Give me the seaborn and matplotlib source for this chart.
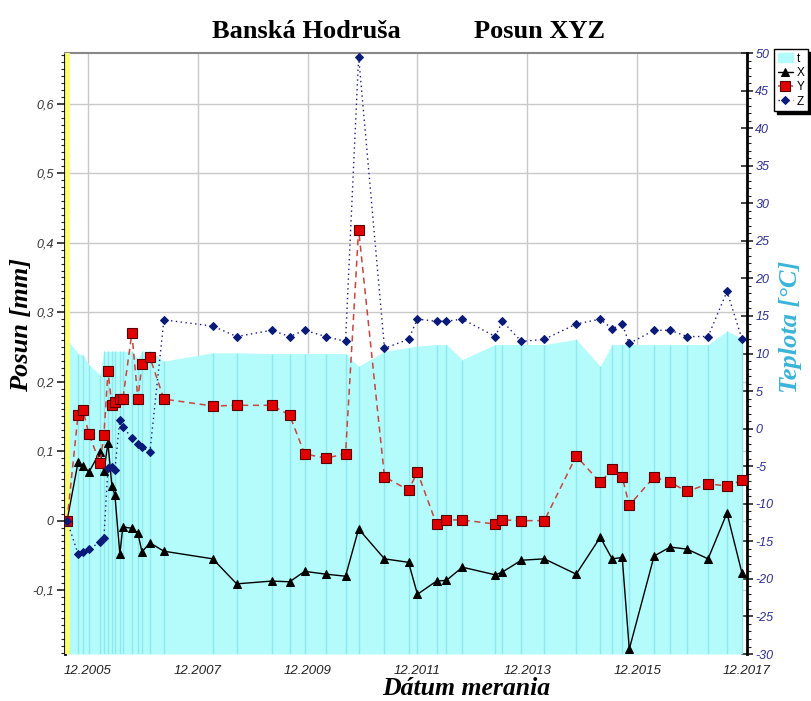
import matplotlib
matplotlib.use("Agg")
import numpy as np
import pandas as pd
import matplotlib.pyplot as plt
from matplotlib.ticker import MultipleLocator, AutoMinorLocator, FuncFormatter, FixedLocator, FixedFormatter
from matplotlib.patches import Patch
import seaborn as sns

# Measurement dates
dates = [
    "2005-07-15", "2005-09-26", "2005-10-29", "2005-12-08", "2006-02-19", "2006-03-17",
    "2006-04-13", "2006-05-09", "2006-05-29", "2006-07-01", "2006-07-21", "2006-09-19",
    "2006-10-29", "2006-11-25", "2007-01-17", "2007-04-20", "2008-03-10", "2008-08-16",
    "2009-04-06", "2009-08-03", "2009-11-11", "2010-03-31", "2010-08-10", "2010-11-05",
    "2011-04-26", "2011-10-03", "2011-12-01", "2012-04-06", "2012-06-11", "2012-09-25",
    "2013-05-02", "2013-06-18", "2013-10-22", "2014-03-24", "2014-10-22", "2015-03-31",
    "2015-06-18", "2015-08-24", "2015-10-10", "2016-03-23", "2016-07-08", "2016-10-29",
    "2017-03-17", "2017-07-21", "2017-10-29",
]

# Displacement components [mm]
posun_x = [
    0.000, 0.084, 0.078, 0.070, 0.099, 0.071, 0.112, 0.050, 0.037, -0.048, -0.009, -0.011,
    -0.018, -0.045, -0.032, -0.044, -0.055, -0.091, -0.087, -0.088, -0.073, -0.077, -0.080,
    -0.012, -0.055, -0.060, -0.106, -0.087, -0.086, -0.067, -0.078, -0.074, -0.057, -0.055,
    -0.077, -0.024, -0.055, -0.053, -0.185, -0.051, -0.038, -0.041, -0.055, 0.011, -0.076,
]
posun_y = [
    0.000, 0.152, 0.159, 0.124, 0.083, 0.123, 0.215, 0.166, 0.171, 0.175, 0.175, 0.270,
    0.175, 0.225, 0.235, 0.175, 0.165, 0.166, 0.166, 0.152, 0.096, 0.090, 0.096,
    0.419, 0.063, 0.044, 0.070, -0.005, 0.001, 0.001, -0.005, 0.001, 0.000, 0.000,
    0.093, 0.055, 0.074, 0.063, 0.022, 0.063, 0.055, 0.042, 0.053, 0.050, 0.058,
]
posun_z = [
    0.000, -0.048, -0.045, -0.041, -0.031, -0.025, 0.076, 0.077, 0.073, 0.145, 0.135, 0.119,
    0.110, 0.106, 0.099, 0.289, 0.280, 0.265, 0.274, 0.265, 0.274, 0.265, 0.258,
    0.668, 0.248, 0.261, 0.290, 0.287, 0.287, 0.290, 0.265, 0.287, 0.258, 0.261,
    0.283, 0.290, 0.276, 0.283, 0.255, 0.274, 0.274, 0.265, 0.265, 0.330, 0.261,
]

# Temperature at each measurement [°C]
teplota = [
    11.9, 10.0, 9.8, 8.5, 7.2, 10.3, 10.3, 10.3, 10.3, 10.3, 10.3, 10.3,
    9.3, 10.3, 10.3, 9.0, 10.1, 10.1, 10.0, 10.0, 10.0, 10.0, 10.0,
    8.3, 10.3, 10.8, 11.0, 11.2, 11.2, 9.2, 11.2, 11.2, 11.2, 11.2,
    11.9, 8.3, 11.2, 11.2, 11.2, 11.2, 11.2, 11.2, 11.2, 13.0, 12.0,
]

x_tick_labels = ["12.2005", "12.2007", "12.2009", "12.2011", "12.2013", "12.2015", "12.2017"]

df = pd.DataFrame({
    "datum": pd.to_datetime(dates),
    "X": posun_x,
    "Y": posun_y,
    "Z": posun_z,
    "t": teplota,
})
tick_dates = pd.to_datetime(x_tick_labels, format="%m.%Y")

sns.set_style("white")
plt.rcParams["font.family"] = ["Liberation Sans", "DejaVu Sans"]
plt.rcParams["font.style"] = "italic"
plt.rcParams["text.color"] = "black"
plt.rcParams["axes.labelcolor"] = "black"

fig = plt.figure(figsize=(8.11, 7.01), dpi=100)
rect = [0.0801, 0.0670, 0.8410, 0.8573]

# Base layer: displacement scale with grid
ax = fig.add_axes(rect)
ax.set_facecolor("white")
ax.set_xlim(pd.Timestamp("2005-07-01"), pd.Timestamp("2017-12-01"))
ax.set_ylim(-0.192, 0.673)
ax.yaxis.set_major_locator(MultipleLocator(0.1))
ax.yaxis.set_minor_locator(AutoMinorLocator(10))
ax.yaxis.set_major_formatter(FuncFormatter(
    lambda v, p: "0" if abs(v) < 1e-9 else f"{v:.1f}".replace(".", ",")))
ax.xaxis.set_major_locator(FixedLocator(matplotlib.dates.date2num(tick_dates)))
ax.xaxis.set_major_formatter(FixedFormatter(x_tick_labels))
ax.xaxis.set_minor_locator(AutoMinorLocator(10))
ax.grid(True, which="major", color="#c9c9c9", lw=1)
ax.tick_params(axis="y", which="major", direction="out", length=6, width=1.2,
               color="#222222", labelsize=9, labelcolor="#333333", pad=2)
ax.tick_params(axis="y", which="minor", direction="out", length=3, width=0.8, color="#222222")
ax.tick_params(axis="x", which="major", direction="out", length=5, width=1.0,
               color="#333333", labelsize=9.5, labelcolor="#222222", pad=3)
ax.tick_params(axis="x", which="minor", direction="out", length=3, width=0.8, color="#333333")
ax.spines["left"].set_color("black")
ax.spines["left"].set_linewidth(2)
ax.spines["top"].set_color("#888888")
ax.spines["top"].set_linewidth(1.5)
ax.spines["bottom"].set_visible(False)
ax.spines["right"].set_visible(False)

# Middle layer: temperature area on the right scale
ax_t = ax.twinx()
ax_t.set_ylim(-30, 50)
ax_t.fill_between(df["datum"], df["t"], -30, color="#b4fcfc", lw=0, zorder=1)
ax_t.vlines(df["datum"], -30, df["t"], color="#8fe8ee", lw=1, zorder=2)
ax_t.axvline(df["datum"].iloc[0], color="#ffff70", lw=3.5, zorder=3)
ax_t.yaxis.set_major_locator(MultipleLocator(5))
ax_t.yaxis.set_minor_locator(AutoMinorLocator(5))
ax_t.yaxis.set_major_formatter(FuncFormatter(lambda v, p: f"{v:.0f}"))
ax_t.tick_params(axis="y", which="major", direction="inout", length=8, width=1.2,
                 color="#222222", labelsize=9, labelcolor="#2e2e8f", pad=2)
ax_t.tick_params(axis="y", which="minor", direction="out", length=3, width=0.8, color="#222222")
for s in ("left", "top", "bottom"):
    ax_t.spines[s].set_visible(False)
ax_t.spines["right"].set_color("black")
ax_t.spines["right"].set_linewidth(2)

# Top layer: displacement series
ax_l = ax.twinx()
ax_l.set_ylim(ax.get_ylim())
sns.lineplot(data=df, x="datum", y="X", ax=ax_l, color="black", lw=1,
             marker="^", markersize=6, markerfacecolor="black", markeredgecolor="black",
             label="X", legend=False)
sns.lineplot(data=df, x="datum", y="Y", ax=ax_l, color="#c8443c", lw=1.1, linestyle=(0, (4, 3)),
             marker="s", markersize=6.5, markerfacecolor="#e00000", markeredgecolor="#5a0000",
             markeredgewidth=0.8, label="Y", legend=False)
sns.lineplot(data=df, x="datum", y="Z", ax=ax_l, color="#1a1a80", lw=1.0, linestyle=(0, (1, 2.5)),
             marker="D", markersize=4.5, markerfacecolor="#0a1a78", markeredgecolor="#0a1a78",
             label="Z", legend=False)
ax_l.set_ylim(ax.get_ylim())
ax_l.yaxis.set_visible(False)
ax_l.set_xlabel("")
ax_l.set_ylabel("")
for s in ax_l.spines.values():
    s.set_visible(False)
if ax_l.get_legend() is not None:
    ax_l.get_legend().remove()

# Texts
serif = ["Liberation Serif", "DejaVu Serif"]
fig.text(306 / 811, 1 - 31 / 701, "Banská Hodruša", ha="center", va="center",
         fontsize=19, fontweight="bold", fontstyle="normal", family=serif)
fig.text(540 / 811, 1 - 31 / 701, "Posun XYZ", ha="center", va="center",
         fontsize=19, fontweight="bold", fontstyle="normal", family=serif)
fig.text(22 / 811, 1 - 325 / 701, "Posun [mm]", rotation=90, ha="center", va="center",
         fontsize=19, fontweight="bold", fontstyle="italic", family=serif)
fig.text(790 / 811, 1 - 327 / 701, "Teplota [°C]", rotation=90, ha="center", va="center",
         fontsize=19, fontweight="bold", fontstyle="italic", family=serif, color="#39b4d8")
fig.text(466 / 811, 1 - 695 / 701, "Dátum merania", ha="center", va="baseline",
         fontsize=18.5, fontweight="bold", fontstyle="italic", family=serif)

# Legend
handles = [Patch(facecolor="#b4fcfc", edgecolor="#b4fcfc")] + ax_l.get_lines()[:3]
labels = ["t", "X", "Y", "Z"]
leg = fig.legend(handles, labels, loc="upper left", bbox_to_anchor=(774 / 811, 1 - 49 / 701),
                 prop={"size": 8.5, "style": "normal", "family": "Liberation Sans"},
                 frameon=True, fancybox=False, edgecolor="black", framealpha=1,
                 shadow={"color": "black", "alpha": 1}, handlelength=1.3, handletextpad=0.3,
                 labelspacing=0.2, borderpad=0.3, borderaxespad=0)
leg.get_frame().set_linewidth(1)

fig.savefig("out.png", dpi=100)
